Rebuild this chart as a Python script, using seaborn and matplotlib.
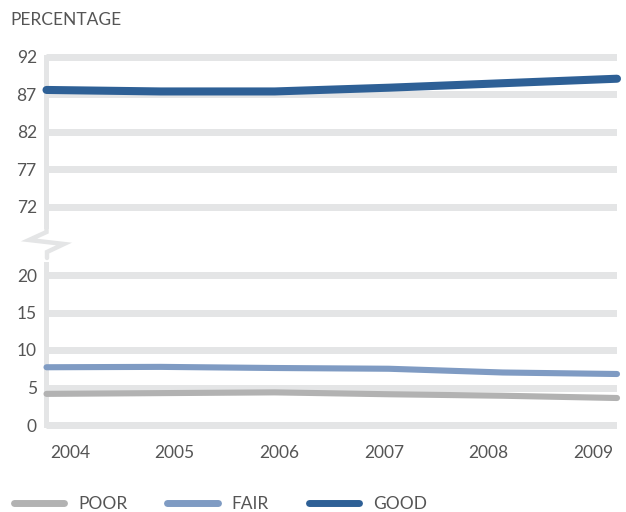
import matplotlib
matplotlib.use("Agg")
import matplotlib.pyplot as plt
import matplotlib.transforms as mtransforms
from matplotlib.lines import Line2D
import seaborn as sns
import pandas as pd

years = [2004, 2005, 2006, 2007, 2008, 2009]
poor = [4.15, 4.25, 4.35, 4.1, 3.9, 3.6]
fair = [7.7, 7.75, 7.6, 7.5, 7.0, 6.8]
good = [87.6, 87.4, 87.4, 87.9, 88.5, 89.1]
series_names = ["POOR", "FAIR", "GOOD"]
colors = {"POOR": "#b2b2b2", "FAIR": "#7f9bc3", "GOOD": "#2e6096"}
widths = {"POOR": 4.4, "FAIR": 4.4, "GOOD": 5.8}
top_ticks = [72, 77, 82, 87, 92]
bottom_ticks = [0, 5, 10, 15, 20]
ylabel = "PERCENTAGE"

sns.set_style("white")
plt.rcParams["font.family"] = ["Lato", "DejaVu Sans"]
text_color = "#555555"
grid_color = "#e4e5e6"
fs = 12.5

df = pd.DataFrame({
    "year": years * 3,
    "value": poor + fair + good,
    "series": ["POOR"] * 6 + ["FAIR"] * 6 + ["GOOD"] * 6,
})

W, H = 626, 512
fig = plt.figure(figsize=(W / 100, H / 100), dpi=100)

def px_axes(left, top, right, bottom):
    return fig.add_axes([left / W, 1 - bottom / H, (right - left) / W, (bottom - top) / H])

ax_top = px_axes(46.5, 53.25, 617, 233)
ax_bot = px_axes(46.5, 252.5, 617, 428.75)
ax_top.set_ylim(68.5, 92.5)
ax_bot.set_ylim(-0.5, 23)

for ax, ticks in ((ax_top, top_ticks), (ax_bot, bottom_ticks)):
    ax.set_xlim(years[0], years[-1])
    for t in ticks:
        ax.axhline(t, color=grid_color, lw=5, zorder=0, solid_capstyle="butt")
    sns.lineplot(data=df, x="year", y="value", hue="series", hue_order=series_names,
                 palette=colors, ax=ax, legend=False, zorder=3)
    for line, name in zip(ax.get_lines()[len(ticks):], series_names):
        line.set_linewidth(widths[name])
        line.set_solid_capstyle("round")
        line.set_solid_joinstyle("round")
        line.set_clip_on(False)
    ax.set_yticks(ticks)
    ax.set_yticklabels([str(t) for t in ticks])
    ax.tick_params(axis="y", length=0, pad=7, labelsize=fs, labelcolor=text_color)
    for s in ("top", "right", "bottom"):
        ax.spines[s].set_visible(False)
    ax.spines["left"].set_color(grid_color)
    ax.spines["left"].set_linewidth(3.6)
    ax.set_xlabel("")
    ax.set_ylabel("")
    ax.patch.set_alpha(0)

ax_top.spines["left"].set_bounds(69.5, 92)
ax_bot.spines["left"].set_bounds(0, 21.5)
ax_top.set_xticks([])

ax_bot.set_xticks(years)
ax_bot.set_xticklabels([str(y) for y in years])
ax_bot.tick_params(axis="x", length=0, pad=12, labelsize=fs, labelcolor=text_color)
n = len(years)
for i, lab in enumerate(ax_bot.get_xticklabels()):
    dx = (1 - 2 * i / (n - 1)) * 17 / 72
    lab.set_transform(lab.get_transform() + mtransforms.ScaledTranslation(dx, 0, fig.dpi_scale_trans))

# axis break zigzag
zx = [46.5, 46.5, 29, 64, 47, 47]
zy = [226, 232, 240, 244, 252, 258]
fig.add_artist(Line2D([x / W for x in zx], [1 - y / H for y in zy], color=grid_color,
                      lw=3.2, solid_joinstyle="miter", transform=fig.transFigure))

fig.text(10 / W, 1 - 20 / H, ylabel, fontsize=fs, color=text_color, va="center", ha="left")

handles = [Line2D([0], [0], color=colors[s], lw=5, solid_capstyle="round") for s in series_names]
leg = fig.legend(handles, series_names, loc="center left", bbox_to_anchor=(14 / W, 1 - 504 / H),
                 ncol=3, frameon=False, handlelength=2.9, handletextpad=0.8, columnspacing=2.3,
                 fontsize=fs, borderaxespad=0, borderpad=0)
for t in leg.get_texts():
    t.set_color(text_color)

fig.savefig("out.png", dpi=100)
